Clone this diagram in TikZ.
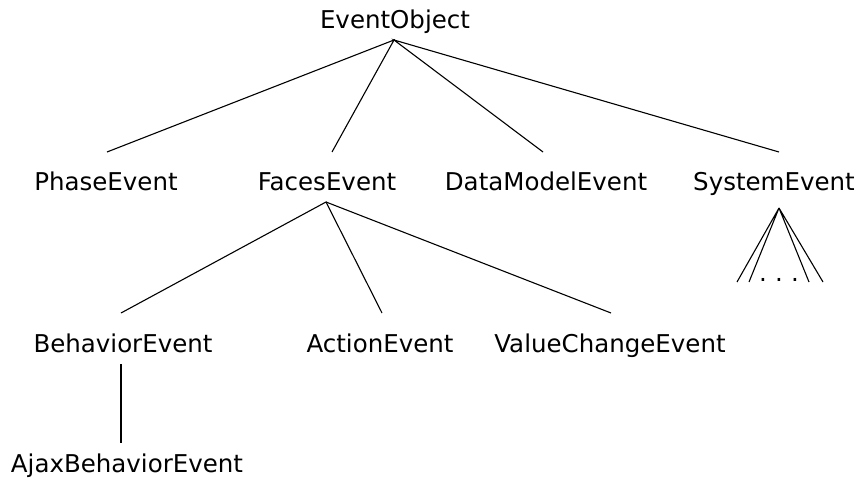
\documentclass[tikz,border=0pt]{standalone}
\usepackage{fontspec}
\setmainfont{DejaVu Sans}
\begin{document}
\begin{tikzpicture}[x=1pt,y=-1pt,
  lbl/.style={anchor=base,inner sep=0pt,font=\fontsize{24.5}{28}\selectfont},
  edge/.style={line width=1.1pt,black}]
\useasboundingbox (0,0) rectangle (859,479);
% nodes
\node[lbl] (eo) at (395,28) {EventObject};
\node[lbl] (pe) at (106,190) {PhaseEvent};
\node[lbl] (fe) at (327,190) {FacesEvent};
\node[lbl] (dme) at (546,190) {DataModelEvent};
\node[lbl] (se) at (774,190) {SystemEvent};
\node[lbl] (be) at (123,352) {BehaviorEvent};
\node[lbl] (ae) at (380,352) {ActionEvent};
\node[lbl] (vce) at (610,352) {ValueChangeEvent};
\node[lbl] (abe) at (127,472) {AjaxBehaviorEvent};
\node[lbl] (dots) at (779,281) {.\,\,.\,\,.};
% connector ends
\coordinate (eo-s) at (394,40);
\coordinate (pe-n) at (107,152);
\coordinate (fe-n) at (332,152);
\coordinate (dme-n) at (543,152);
\coordinate (se-n) at (779,152);
\coordinate (fe-s) at (326,202);
\coordinate (be-n) at (121,313);
\coordinate (ae-n) at (382,313);
\coordinate (vce-n) at (611,313);
\coordinate (be-s) at (121,364);
\coordinate (abe-n) at (121,443);
\coordinate (se-s) at (779,208);
\coordinate (s1) at (737,282);
\coordinate (s2) at (749,282);
\coordinate (s3) at (809,282);
\coordinate (s4) at (823,282);
% edges
\draw[edge] (pe-n) -- (eo-s) -- (fe-n);
\draw[edge] (dme-n) -- (eo-s) -- (se-n);
\draw[edge] (be-n) -- (fe-s) -- (ae-n);
\draw[edge] (fe-s) -- (vce-n);
\draw[edge] (be-s) -- (abe-n);
\draw[edge] (s1) -- (se-s) -- (s2);
\draw[edge] (s3) -- (se-s) -- (s4);
\end{tikzpicture}
\end{document}
